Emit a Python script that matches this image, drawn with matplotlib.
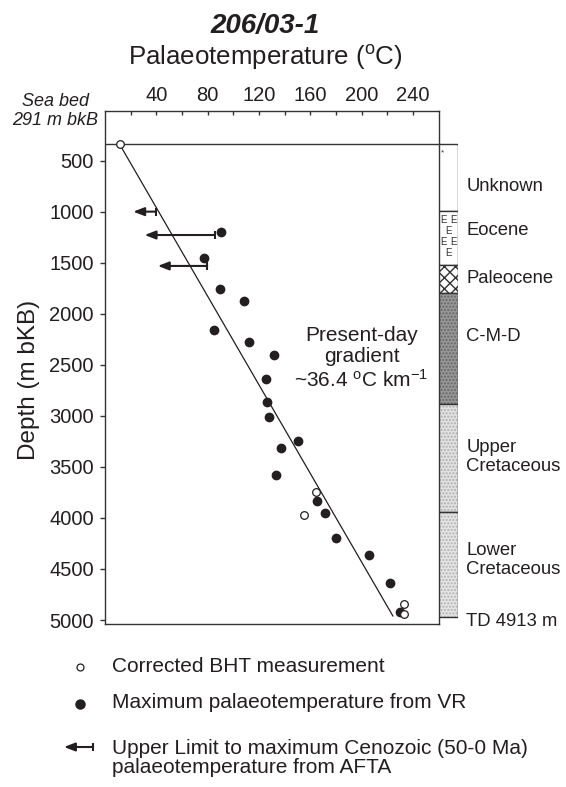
import matplotlib
matplotlib.use("Agg")
import matplotlib.pyplot as plt

plt.rcParams['font.family'] = ['Liberation Sans', 'DejaVu Sans']
plt.rcParams['mathtext.fontset'] = 'custom'
plt.rcParams['mathtext.rm'] = 'Liberation Sans'
plt.rcParams['mathtext.it'] = 'Liberation Sans:italic'

INK = '#231f20'

# ---------------- data ----------------
seabed_depth = 339
gradient_T = [11.4, 224.4]
gradient_z = [339, 4960]

bht_T = [11.4, 164.2, 154.9, 233.2, 233.2]
bht_z = [339, 3745, 3971, 4843, 4944]

vr_T = [90.8, 77.1, 89.5, 108.2, 84.8, 112.6, 131.5, 125.6, 126.4, 128.2,
        150.5, 137.3, 133.6, 165.3, 171.2, 179.8, 205.8, 222.3, 229.6]
vr_z = [1201, 1450, 1757, 1874, 2158, 2273, 2403, 2641, 2861, 3008,
        3243, 3311, 3579, 3834, 3954, 4199, 4363, 4640, 4918]

afta_limit_T = [39.5, 85.4, 79.7]
afta_arrow_T = [22.0, 30.9, 41.2]
afta_z = [999, 1228, 1531]

strat_names = ['Unknown', 'Eocene', 'Paleocene', 'C-M-D',
               'Upper\nCretaceous', 'Lower\nCretaceous']
strat_top = [339, 990, 1522, 1799, 2883, 3938]
strat_base = [990, 1522, 1799, 2883, 3938, 4967]
strat_label_z = [749, 1188, 1658, 2227, 3400, 4410]
td_label = 'TD 4913 m'
td_label_z = 5010

x_major = [40, 80, 120, 160, 200, 240]
x_minor = [20, 60, 100, 140, 180, 220]
y_ticks = [500, 1000, 1500, 2000, 2500, 3000, 3500, 4000, 4500, 5000]

# ---------------- figure ----------------
W, H = 566, 787
fig = plt.figure(figsize=(W / 100, H / 100), dpi=100)

ax = fig.add_axes([105 / W, 1 - 624 / H, 333.5 / W, 513 / H])
ax.set_xlim(0, 260)
ax.set_ylim(5039, 13)
for s in ax.spines.values():
    s.set_linewidth(1.0)
    s.set_color('#333333')

ax.xaxis.tick_top()
ax.set_xticks(x_major)
ax.set_xticks(x_minor, minor=True)
ax.tick_params(axis='x', which='both', direction='in', length=3.2, width=1.0,
               color='#333333', pad=4, labelsize=14.5, labelcolor=INK,
               top=True, bottom=False)
ax.set_yticks(y_ticks)
ax.tick_params(axis='y', direction='out', length=3.6, width=1.0, color='#333333',
               pad=4.5, labelsize=14.5, labelcolor=INK)

# seabed line
ax.axhline(seabed_depth, color='#333333', lw=1.0, zorder=2)
# gradient line
ax.plot(gradient_T, gradient_z, color=INK, lw=0.9, zorder=2)
# AFTA arrows
for tl, ta, z in zip(afta_limit_T, afta_arrow_T, afta_z):
    ax.annotate('', xy=(ta, z), xytext=(tl, z),
                arrowprops=dict(arrowstyle='-|>,head_length=0.65,head_width=0.25',
                                lw=1.5, color=INK, shrinkA=0, shrinkB=0))
    ax.plot([tl], [z], marker='|', ms=6, mew=1.5, color=INK)
# VR dots
ax.plot(vr_T, vr_z, 'o', ms=6, color=INK, mec=INK, zorder=4)
# BHT open circles
ax.plot(bht_T, bht_z, 'o', ms=5.5, mfc='white', mec=INK, mew=0.9, zorder=5)

ax.text(200, 2433, 'Present-day\ngradient\n~36.4 $^{\\rm o}$C km$^{-1}$',
        ha='center', va='center', fontsize=15, color=INK, linespacing=1.15)

# ---------------- stratigraphic column ----------------
axc = fig.add_axes([439 / W, 1 - 624 / H, 19.2 / W, 513 / H])
axc.set_xlim(0, 1)
axc.set_ylim(5039, 13)
axc.axis('off')
faces = ['white', 'white', 'white', '#979797', '#e2e2e2', '#e4e4e4']
hatches = [None, None, 'xxx', '.....', '.....', '.....']
hcolors = ['#333333', '#333333', '#333333', '#666666', '#adadad', '#b2b2b2']
heights = [b - t for t, b in zip(strat_top, strat_base)]
for t, h, fc, hc, hcol in zip(strat_top, heights, faces, hatches, hcolors):
    axc.bar(0.5, h, width=1.0, bottom=t, color=fc, edgecolor=hcol,
            lw=0, hatch=hc)
    axc.bar(0.5, h, width=1.0, bottom=t, color='none', edgecolor='#333333', lw=1.0)
# E symbols for Eocene
e_rows = [(0.22, 1085), (0.76, 1085), (0.52, 1190), (0.22, 1295), (0.76, 1295), (0.52, 1400)]
for ex, ez in e_rows:
    axc.text(ex, ez, 'E', ha='center', va='center', fontsize=7, color='#333333')
axc.text(0.2, 420, '*', ha='center', va='center', fontsize=6, color='#333333')

ytr = axc.get_yaxis_transform()
for name, z in zip(strat_names, strat_label_z):
    axc.text(1.42, z, name, transform=ytr, ha='left', va='center',
             fontsize=13.3, color=INK, linespacing=1.15, clip_on=False)
axc.text(1.42, td_label_z, td_label, transform=ytr, ha='left', va='center',
         fontsize=13.3, color=INK, clip_on=False)

# ---------------- titles ----------------
fig.text(265 / W, 1 - 33.3 / H, '206/03-1', ha='center', va='baseline',
         fontsize=20, fontweight='bold', fontstyle='italic', color=INK)
fig.text(265 / W, 1 - 65 / H, 'Palaeotemperature ($^{\\rm o}$C)', ha='center',
         va='baseline', fontsize=18.6, color=INK)
fig.text(55 / W, 1 - 111 / H, 'Sea bed\n291 m bkB', ha='center', va='center',
         fontsize=13, fontstyle='italic', color=INK, linespacing=1.1)
fig.text(29 / W, 1 - 380 / H, 'Depth (m bKB)', ha='center', va='center',
         rotation=90, fontsize=17.5, color=INK)

# ---------------- legend ----------------
lg = fig.add_axes([0, 0, 1, 1])
lg.set_xlim(0, W)
lg.set_ylim(H, 0)
lg.axis('off')
lg.plot([80], [667], 'o', ms=5.0, mfc='white', mec=INK, mew=0.9)
lg.plot([80], [704], 'o', ms=6.5, color=INK)
lg.annotate('', xy=(64, 747), xytext=(93, 747),
            arrowprops=dict(arrowstyle='-|>,head_length=0.65,head_width=0.25',
                            lw=1.5, color=INK, shrinkA=0, shrinkB=0))
lg.plot([93], [747], marker='|', ms=6, mew=1.5, color=INK)
legend_texts = ['Corrected BHT measurement',
                'Maximum palaeotemperature from VR',
                'Upper Limit to maximum Cenozoic (50-0 Ma)\npalaeotemperature from AFTA']
legend_y = [666, 703, 758]
for t, y in zip(legend_texts, legend_y):
    lg.text(112, y, t, ha='left', va='center', fontsize=15, color=INK,
            linespacing=1.05)

fig.savefig('out.png', dpi=100)
